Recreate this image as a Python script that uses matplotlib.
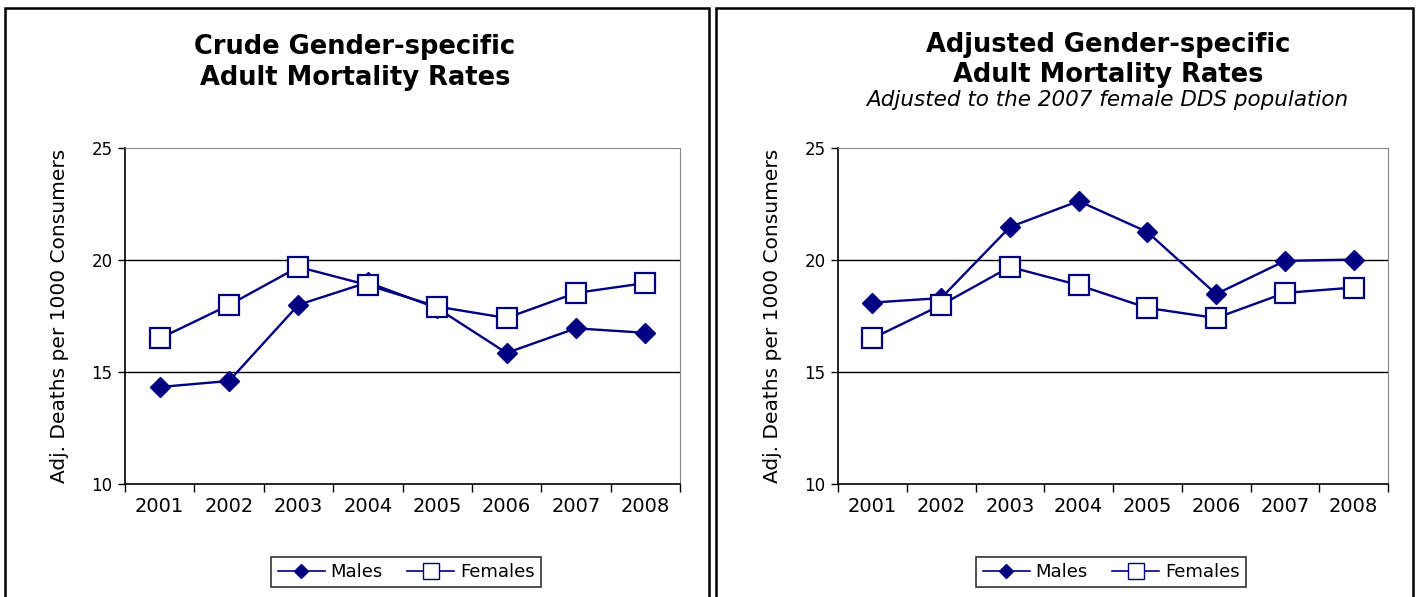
import matplotlib
matplotlib.use("Agg")
import matplotlib.pyplot as plt
from matplotlib.patches import Rectangle
from matplotlib.lines import Line2D

# Data
years = ['2001', '2002', '2003', '2004', '2005', '2006', '2007', '2008']
crude_males = [14.33, 14.6, 18.0, 19.0, 17.85, 15.85, 16.95, 16.75]
crude_females = [16.5, 17.99, 19.69, 18.88, 17.92, 17.41, 18.53, 18.97]
adj_males = [18.1, 18.3, 21.47, 22.63, 21.25, 18.48, 19.96, 20.02]
adj_females = [16.5, 17.99, 19.69, 18.88, 17.86, 17.41, 18.53, 18.77]

navy = '#000080'
plt.rcParams['font.family'] = 'DejaVu Sans'

fig = plt.figure(figsize=(14.16, 5.97), dpi=100)

# panel borders
for x0, w in [(5 / 1416, 704 / 1416), (716 / 1416, 697 / 1416)]:
    fig.patches.append(Rectangle((x0, -0.05), w, 1.05 - 8 / 597, transform=fig.transFigure,
                                 fill=False, edgecolor='black', linewidth=1.8))


def draw_panel(rect, males, females):
    ax = fig.add_axes(rect)
    x = list(range(len(years)))
    ax.plot(x, males, color=navy, lw=1.7, marker='D', markersize=10,
            markerfacecolor=navy, markeredgecolor=navy, label='Males', zorder=3)
    ax.plot(x, females, color=navy, lw=1.7, marker='s', markersize=14,
            markerfacecolor='white', markeredgecolor=navy, markeredgewidth=1.6,
            label='Females', zorder=3)
    ax.set_xlim(-0.5, len(years) - 0.5)
    ax.set_ylim(10, 25)
    ax.set_yticks([10, 15, 20, 25])
    for yv in [15, 20]:
        ax.axhline(yv, color='black', lw=1, zorder=1)
    ax.set_xticks([i - 0.5 for i in range(len(years) + 1)])
    ax.set_xticklabels([])
    ax.set_xticks(x, minor=True)
    ax.set_xticklabels(years, minor=True, fontsize=14)
    ax.tick_params(axis='x', which='major', length=6, direction='out', width=1)
    ax.tick_params(axis='x', which='minor', length=0, pad=9)
    ax.tick_params(axis='y', length=5, width=1, labelsize=12, pad=4, colors='black')
    for s in ['top', 'right']:
        ax.spines[s].set_color('#888888')
    ax.spines['left'].set_linewidth(1.2)
    ax.spines['bottom'].set_linewidth(1.2)
    ax.set_ylabel('Adj. Deaths per 1000 Consumers', fontsize=14.5, labelpad=16)
    return ax


ax1 = draw_panel([125 / 1416, 1 - 484 / 597, 555 / 1416, 336 / 597], crude_males, crude_females)
ax2 = draw_panel([838 / 1416, 1 - 484 / 597, 550 / 1416, 336 / 597], adj_males, adj_females)

fig.text(355 / 1416, 1 - 47 / 597, 'Crude Gender-specific', ha='center', va='center',
         fontsize=18.5, fontweight='bold')
fig.text(355 / 1416, 1 - 78 / 597, 'Adult Mortality Rates', ha='center', va='center',
         fontsize=18.5, fontweight='bold')
fig.text(1108 / 1416, 1 - 45 / 597, 'Adjusted Gender-specific', ha='center', va='center',
         fontsize=18.5, fontweight='bold')
fig.text(1108 / 1416, 1 - 75 / 597, 'Adult Mortality Rates', ha='center', va='center',
         fontsize=18.5, fontweight='bold')
fig.text(1107 / 1416, 1 - 100 / 597, 'Adjusted to the 2007 female DDS population', ha='center',
         va='center', fontsize=15.5, style='italic')

handles = [
    Line2D([], [], color=navy, lw=1.2, marker='D', markersize=7, markerfacecolor=navy),
    Line2D([], [], color=navy, lw=1.2, marker='s', markersize=12, markerfacecolor='white',
           markeredgecolor=navy),
]
for cx in [406 / 1416, 1111 / 1416]:
    leg = fig.legend(handles, ['Males', 'Females'], loc='center', bbox_to_anchor=(cx, 1 - 572 / 597),
                     ncol=2, fontsize=13, frameon=True, fancybox=False, edgecolor='black',
                     handlelength=2.6, handletextpad=0.3, columnspacing=1.4, borderpad=0.35)
    leg.get_frame().set_linewidth(1.2)

fig.savefig('out.png', dpi=100)
